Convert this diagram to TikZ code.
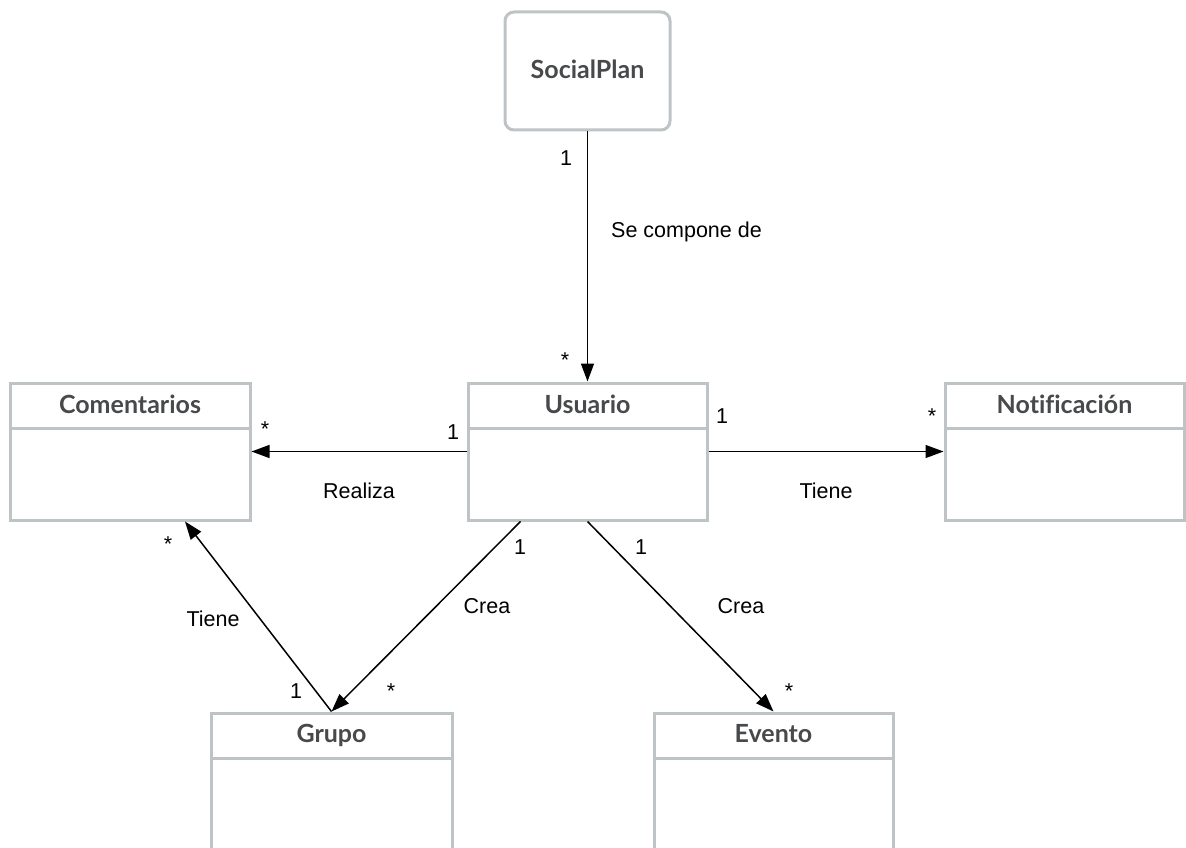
\documentclass[tikz,border=0pt]{standalone}
\usepackage{fontspec}
\setmainfont{Liberation Sans}
\newfontfamily\titlefont[Ligatures=NoCommon]{Lato}
\usetikzlibrary{arrows.meta,calc}
\definecolor{boxgray}{HTML}{BEC4C6}
\definecolor{titlegray}{HTML}{47494B}
\tikzset{
  umlbox/.style={draw=boxgray, line width=3pt, fill=white, minimum width=239pt, minimum height=137pt, inner sep=0pt},
  title/.style={anchor=base, font=\titlefont\bfseries\fontsize{25}{25}\selectfont, text=titlegray, inner sep=0pt},
  lbl/.style={anchor=base, font=\fontsize{21.5}{21.5}\selectfont, inner sep=0pt},
  assoc/.style={line width=1.5pt, -{Triangle[length=18pt,width=13pt]}},
}
\begin{document}
\begin{tikzpicture}[x=1pt,y=-1pt]
\useasboundingbox (0,0) rectangle (1186,848);
% boxes
\node[umlbox, rounded corners=9pt, minimum width=165pt, minimum height=118pt] (social) at (587.5,71) {};
\node[umlbox, minimum width=240pt] (coment) at (130,451.5) {};
\node[umlbox] (usuario) at (587.5,451.5) {};
\node[umlbox] (notif) at (1064.5,451.5) {};
\node[umlbox, minimum width=241pt] (grupo) at (331.5,781.5) {};
\node[umlbox] (evento) at (773.5,781.5) {};
% header separators
\foreach \b in {coment,usuario,notif,grupo,evento}{
  \draw[draw=boxgray, line width=3pt] ($(\b.north west)+(0,47)$) -- ($(\b.north east)+(0,47)$);
}
% titles
\node[title] (tsocial) at ($(social.north)+(0,68)$) {SocialPlan};
\node[title] (tcoment) at ($(coment.north)+(0,32)$) {Comentarios};
\node[title] (tusuario) at ($(usuario.north)+(0,32)$) {Usuario};
\node[title] (tnotif) at ($(notif.north)+(0,32)$) {Notificación};
\node[title] (tgrupo) at ($(grupo.north)+(0,31)$) {Grupo};
\node[title] (tevento) at ($(evento.north)+(0,31)$) {Evento};
% connector end points
\coordinate (ugstart) at ($(usuario.south)+(-67,0)$);
\coordinate (cend) at ($(coment.south)+(55,0)$);
% connectors
\draw[assoc] (social.south) -- (usuario.north);
\draw[assoc] (usuario.west) -- (coment.east);
\draw[assoc] (usuario.east) -- (notif.west);
\draw[assoc] (ugstart) -- (grupo.north);
\draw[assoc] (usuario.south) -- (evento.north);
\draw[assoc] (grupo.north) -- (cend);
% labels
\node[lbl] (l1) at (566,165) {1};
\node[lbl] (l2) at (565,367) {*};
\node[lbl, anchor=base west] (l3) at (611,237) {Se compone de};
\node[lbl] (l4) at (265,436) {*};
\node[lbl] (l5) at (453,439) {1};
\node[lbl] (l6) at (359,498) {Realiza};
\node[lbl] (l7) at (722,423) {1};
\node[lbl] (l8) at (932,423) {*};
\node[lbl] (l9) at (826,498) {Tiene};
\node[lbl] (l10) at (520,554) {1};
\node[lbl] (l11) at (391,698) {*};
\node[lbl] (l12) at (487,613) {Crea};
\node[lbl] (l13) at (641,554) {1};
\node[lbl] (l14) at (789,698) {*};
\node[lbl] (l15) at (741,613) {Crea};
\node[lbl] (l16) at (296,698) {1};
\node[lbl] (l17) at (168,551) {*};
\node[lbl] (l18) at (213,626) {Tiene};
\end{tikzpicture}
\end{document}
